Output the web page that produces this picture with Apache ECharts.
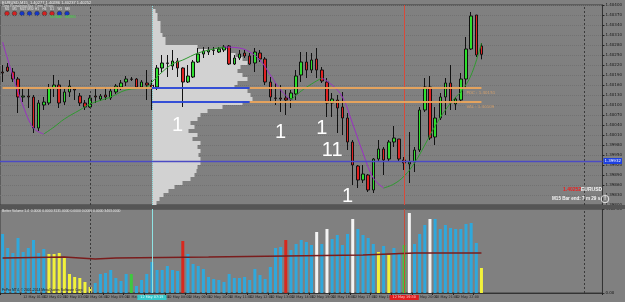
<!DOCTYPE html>
<html><head><meta charset="utf-8">
<script src="https://cdn.jsdelivr.net/npm/echarts@6/dist/echarts.min.js"></script>
<style>html,body{margin:0;padding:0;background:#808080;}#c{width:625px;height:302px;}</style>
</head><body><div id="c"></div>
<script>
// ---------- DATA ----------
const symbolName = 'EURUSD';
const barCount = 117;           // slots on the time axis (incl. empty chart shift)
const startDay = 12, barMinutes = 15;

const opens = [1.40199,1.40214,1.40199,1.40178,1.40124,1.40127,1.40124,1.40031,1.40100,1.40106,
1.40151,1.40160,1.40109,1.40139,1.40148,1.40127,1.40106,1.40094,1.40127,1.40118,
1.40130,1.40121,1.40139,1.40154,1.40169,1.40178,1.40178,1.40154,1.40166,1.40160,
1.40154,1.40211,1.40226,1.40217,1.40232,1.40211,1.40169,1.40184,1.40229,1.40253,
1.40259,1.40265,1.40259,1.40265,1.40277,1.40223,1.40241,1.40256,1.40247,1.40226,
1.40256,1.40238,1.40169,1.40121,1.40121,1.40121,1.40118,1.40133,1.40190,1.40229,
1.40205,1.40238,1.40205,1.40169,1.40106,1.40115,1.40094,1.40061,1.39989,1.39917,
1.39875,1.39890,1.39845,1.39938,1.39968,1.39938,1.39989,1.39998,1.39935,1.39923,
1.39929,1.39965,1.40085,1.40154,1.40004,1.40061,1.40124,1.40166,1.40103,1.40115,
1.40178,1.40268,1.40370,1.40277];
const closes = [1.40196,1.40202,1.40178,1.40124,1.40127,1.40124,1.40031,1.40106,1.40109,1.40151,
1.40160,1.40106,1.40139,1.40157,1.40145,1.40106,1.40094,1.40121,1.40124,1.40127,
1.40124,1.40142,1.40157,1.40166,1.40178,1.40177,1.40154,1.40169,1.40160,1.40154,
1.40211,1.40226,1.40225,1.40232,1.40211,1.40169,1.40187,1.40229,1.40253,1.40262,
1.40265,1.40264,1.40268,1.40274,1.40223,1.40241,1.40253,1.40247,1.40223,1.40259,
1.40238,1.40169,1.40124,1.40120,1.40118,1.40115,1.40136,1.40187,1.40229,1.40205,
1.40235,1.40205,1.40172,1.40106,1.40118,1.40091,1.40061,1.39989,1.39920,1.39875,
1.39893,1.39845,1.39938,1.39968,1.39935,1.39989,1.40001,1.39938,1.39926,1.39929,
1.39965,1.40085,1.40154,1.40001,1.40061,1.40124,1.40166,1.40106,1.40118,1.40178,
1.40268,1.40367,1.40250,1.40252];
const lows = [1.40169,1.40199,1.40169,1.40076,1.40109,1.40091,1.40016,1.40022,1.40085,1.40100,
1.40124,1.40091,1.40100,1.40124,1.40115,1.40097,1.40085,1.40091,1.40106,1.40112,
1.40115,1.40115,1.40133,1.40145,1.40157,1.40172,1.40151,1.40148,1.40115,1.40085,
1.40145,1.40199,1.40184,1.40205,1.40184,1.40094,1.40166,1.40181,1.40226,1.40241,
1.40250,1.40250,1.40256,1.40259,1.40220,1.40220,1.40235,1.40241,1.40220,1.40199,
1.40229,1.40160,1.40106,1.40100,1.40079,1.40070,1.40091,1.40115,1.40169,1.40181,
1.40196,1.40181,1.40166,1.40064,1.40064,1.40016,1.40010,1.39965,1.39860,1.39851,
1.39866,1.39839,1.39836,1.39929,1.39890,1.39929,1.39974,1.39929,1.39905,1.39866,
1.39899,1.39959,1.40079,1.39995,1.39980,1.40055,1.40070,1.40085,1.40085,1.40106,
1.40151,1.40265,1.40244,1.40237];
const highs = [1.40220,1.40226,1.40211,1.40184,1.40151,1.40151,1.40130,1.40115,1.40124,1.40163,
1.40190,1.40175,1.40151,1.40175,1.40151,1.40136,1.40115,1.40130,1.40154,1.40133,
1.40154,1.40151,1.40163,1.40175,1.40187,1.40184,1.40181,1.40175,1.40205,1.40175,
1.40220,1.40250,1.40250,1.40265,1.40241,1.40213,1.40220,1.40235,1.40271,1.40274,
1.40274,1.40274,1.40274,1.40280,1.40280,1.40250,1.40265,1.40265,1.40256,1.40271,
1.40265,1.40244,1.40184,1.40166,1.40160,1.40145,1.40145,1.40205,1.40259,1.40259,
1.40256,1.40271,1.40214,1.40181,1.40136,1.40130,1.40139,1.40076,1.39995,1.39920,
1.39920,1.39893,1.39941,1.39995,1.39974,1.39995,1.40037,1.39998,1.39944,1.40019,
1.39974,1.40094,1.40181,1.40187,1.40094,1.40136,1.40181,1.40220,1.40124,1.40196,
1.40304,1.40379,1.40370,1.40286];

// moving-average line, read at sample bars: [barIndex, price]
const maFalling1 = [[0,1.40289],[2,1.40187],[4,1.40097],[6,1.40031],[8,1.40013]];
const maRising1  = [[8,1.40013],[10,1.40034],[12,1.40058],[15,1.40085],[17,1.40103],[21,1.40124],[24,1.40145],[28,1.40154],[29,1.40169],[31,1.40199],[33,1.40223],[35,1.40235],[38,1.40256],[41,1.40268],[43,1.40274]];
const maFalling2 = [[43,1.40274],[46,1.40271],[48,1.40259],[50,1.40235],[52,1.40190],[54,1.40145],[56,1.40115]];
const maRising2  = [[56,1.40115],[58,1.40142],[60,1.40163],[62,1.40181]];
const maFalling3 = [[62,1.40181],[64,1.40160],[66,1.40124],[68,1.40043],[70,1.39956],[72,1.39881],[74,1.39851]];
const maRising3  = [[74,1.39851],[76,1.39863],[78,1.39887],[80,1.39926],[82,1.39980],[84,1.40037],[86,1.40085],[88,1.40124],[89,1.40139],[91,1.40190],[93,1.40286]];

// levels
const pocLevel = 1.40151, valLevel = 1.40109, supportLevel = 1.39932, lastPrice = 1.40252;
const levelSplitBar = 29, levelBlueEnd = 48, lastBar = 93;
const vLineBars = {dashA:17, dashB:113, cyan:29, red:78};

// volume (Better Volume)
const volumes = [2360,1800,1600,2200,1640,1800,2120,1600,1760,1560,
1560,1600,1400,760,640,600,440,240,400,760,
800,920,600,480,760,760,280,520,760,1240,
920,920,1080,920,880,2080,1560,1160,1080,960,
640,560,520,440,760,600,600,640,520,960,
720,560,1040,1800,1840,2120,1720,1960,2120,2040,
1920,2440,1960,2560,2160,2320,1920,2360,2960,2560,
2320,2200,1960,1640,1880,1520,1800,1560,1920,3200,
1960,2360,2720,2960,2960,2560,2720,2600,2560,2560,
2760,2800,2000,1000];
const lowVolumeBars = [9,10,11,12,13,14,15,16,17,73,75,93];
const climaxUpBars = [35,55];
const climaxDownBars = [61,63,68,79,83];
const churnBars = [25,78];
const volumeAverage = [[0,1400],[12,1440],[18,1360],[22,1400],[40,1440],[55,1480],[70,1520],[80,1600],[93,1600]];
const volumeMax = 3360;

// market profile rows (top to bottom)
const profileTop = 1.40394, profileStep = 0.00012;
const profileCounts = [0,3,5,5,8,8,8,10,13,13,45,75,83,90,95,88,85,90,95,85,82,95,98,100,90,70,55,48,45,38,42,36,45,40,48,45,48,46,48,48,45,44,42,38,30,22,16,11,7,4];

// arrow marks
const markBars = [34,54,62,64,67];
const markPrices = [1.40040,1.40019,1.40031,1.39965,1.39827];
const markTexts = ['1','1','1','11','1'];

// ---------- BUILD ----------
function pad(n){return (n<10?'0':'')+n;}
const cats = [];
for (let i=0;i<barCount;i++){
  const t = i*barMinutes, d = startDay + Math.floor(t/1440), hh = Math.floor((t%1440)/60), mm = t%60;
  cats.push((hh===0&&mm===0) ? d+' May 2014' : d+' May '+pad(hh)+':'+pad(mm));
}
const candleData = opens.map((o,i)=>[o, closes[i], lows[i], highs[i]]);
const profileCats = profileCounts.map((_,k)=>(profileTop - k*profileStep).toFixed(5));
const volColors = {normal:'#2fa8dc', low:'#f2f23a', up:'#d8281e', down:'#f4f4f4', churn:'#3ec83e'};
function volType(i){
  if (lowVolumeBars.includes(i)) return 'low';
  if (climaxUpBars.includes(i)) return 'up';
  if (climaxDownBars.includes(i)) return 'down';
  if (churnBars.includes(i)) return 'churn';
  return 'normal';
}
const volData = volumes.map((v,i)=>({value:v, itemStyle:{color:volColors[volType(i)]}}));

const PURPLE = '#9b2fc4', GREEN = '#2f9a2f';
function maSeries(pts,color,extra){
  return Object.assign({type:'line', xAxisIndex:0, yAxisIndex:0, data:pts, showSymbol:false, smooth:0.4, z:4,
    lineStyle:{color:color, width:1}, silent:true}, extra||{});
}
const ORANGE = '#e9a45c', BLUE = '#2b48d6';
const hSeg = (a,b,y,color,label)=>[
  {coord:[a,y], lineStyle:{color:color,width:2,type:'solid',opacity:0.95}, label:label||{show:false}},
  {coord:[b,y]}];
const profLabel = (txt)=>({show:true, position:'end', offset:[-20,5], formatter:txt, fontSize:4, color:'#d6a06a'});

const levelLines = {symbol:['none','none'], silent:true, animation:false, precision:5, label:{show:false},
  data:[
    {yAxis:supportLevel, lineStyle:{color:'#4b4bc4', type:'solid', width:1.4},
      label:{show:true, position:'end', distance:1, formatter:supportLevel.toFixed(5), fontSize:4, color:'#fff', backgroundColor:'#1d40e0', padding:[1,1]}},
    {yAxis:lastPrice, lineStyle:{opacity:0},
      label:{show:true, position:'end', distance:1, formatter:lastPrice.toFixed(5), fontSize:4, color:'#fff', backgroundColor:'#000', padding:[1,1]}}
  ]};

const chart = echarts.init(document.getElementById('c'));
chart.setOption({
  animation:false,
  backgroundColor:'#808080',
  textStyle:{fontFamily:'DejaVu Sans'},
  grid:[
    {left:-1, right:14, top:5, height:200, show:true, borderColor:'#3a3a3a', borderWidth:1},
    {left:-1, right:14, top:209, height:84, show:true, borderColor:'#3a3a3a', borderWidth:1},
    {left:152.5, top:5, height:200, width:150}
  ],
  xAxis:[
    {gridIndex:0, type:'category', data:cats, axisLine:{show:false}, axisTick:{show:false}, axisLabel:{show:false}, splitLine:{show:false}},
    {gridIndex:1, type:'category', data:cats, axisLine:{lineStyle:{color:'#333'}},
      axisTick:{show:true, length:2, interval:(i)=>i%4===0 && i<=lastBar, lineStyle:{color:'#222'}},
      axisLabel:{show:true, interval:(i)=>i%4===0 && i<=lastBar, fontSize:3.4, color:'#1c1c1c', margin:3, align:'left'}},
    {gridIndex:2, type:'value', min:0, max:150, show:false}
  ],
  yAxis:[
    {gridIndex:0, type:'value', position:'right', min:1.398, max:1.404, interval:0.0003,
      axisLine:{show:true, lineStyle:{color:'#333'}}, axisTick:{show:true, length:2, lineStyle:{color:'#222'}},
      axisLabel:{fontSize:4, color:'#151515', margin:3, formatter:v=>v.toFixed(5)},
      splitLine:{show:true, lineStyle:{color:'#727272', type:'dotted', width:1}}},
    {gridIndex:1, type:'value', position:'right', min:0, max:volumeMax, interval:volumeMax,
      axisLine:{show:true, lineStyle:{color:'#333'}}, axisTick:{show:true, length:2},
      axisLabel:{fontSize:4, color:'#151515', margin:3, formatter:v=>v.toFixed(2)}, splitLine:{show:false}},
    {gridIndex:2, type:'category', data:profileCats, inverse:true, show:false}
  ],
  series:[
    {type:'bar', xAxisIndex:2, yAxisIndex:2, data:profileCounts, barWidth:'100%', z:1, silent:true,
      itemStyle:{color:'#d2d2d2'}},
    {type:'candlestick', xAxisIndex:0, yAxisIndex:0, data:candleData, barWidth:3, z:3,
      itemStyle:{color:'#2ee02e', color0:'#e02222', borderColor:'#111', borderColor0:'#111', borderWidth:1},
      markLine:{symbol:['none','none'], silent:true, animation:false, precision:5, label:{show:false},
        data:[
          {xAxis:vLineBars.dashA, lineStyle:{color:'#3a3a3a', type:[2,2], width:1}},
          {xAxis:vLineBars.dashB, lineStyle:{color:'#3a3a3a', type:[2,2], width:1}},
          {xAxis:vLineBars.cyan, lineStyle:{color:'#8fe3e3', type:[1,1], width:1}},
          {xAxis:vLineBars.red, lineStyle:{color:'#d84a3a', type:'solid', width:1}},
          hSeg(0, levelSplitBar, pocLevel, ORANGE),
          hSeg(levelSplitBar, levelBlueEnd, pocLevel, BLUE),
          hSeg(levelSplitBar, levelBlueEnd, valLevel, BLUE),
          hSeg(levelBlueEnd, lastBar, pocLevel, ORANGE, profLabel('POC : '+pocLevel.toFixed(5))),
          hSeg(levelBlueEnd, lastBar, valLevel, ORANGE, profLabel('VAL : '+valLevel.toFixed(5)))
        ]},
      markPoint:{silent:true, symbol:'rect', symbolSize:1, itemStyle:{color:'rgba(0,0,0,0)'},
        label:{show:true, position:'inside', color:'#fff', fontSize:20, fontFamily:'Liberation Sans', formatter:p=>p.name},
        data:markBars.map((b,i)=>({name:markTexts[i], coord:[b, markPrices[i]]}))}
    },
    maSeries(maFalling1,PURPLE), maSeries(maRising1,GREEN),
    maSeries(maFalling2,PURPLE), maSeries(maRising2,GREEN),
    maSeries(maFalling3,PURPLE), maSeries(maRising3,GREEN,{markLine:levelLines}),
    {type:'bar', xAxisIndex:1, yAxisIndex:1, data:volData, barWidth:3, z:2, silent:true,
      markLine:{symbol:['none','none'], silent:true, animation:false, label:{show:false},
        data:[
          {xAxis:vLineBars.dashA, lineStyle:{color:'#3a3a3a', type:[2,2], width:1}},
          {xAxis:vLineBars.dashB, lineStyle:{color:'#3a3a3a', type:[2,2], width:1}},
          {xAxis:vLineBars.cyan, lineStyle:{color:'#8fe3e3', type:'solid', width:1},
            label:{show:true, position:'start', distance:2, formatter:cats[vLineBars.cyan], fontSize:3.4, color:'#e8ffff', backgroundColor:'#36c8cc', padding:[1,3]}},
          {xAxis:vLineBars.red, lineStyle:{color:'#c84a3a', type:'solid', width:1},
            label:{show:true, position:'start', distance:2, formatter:cats[vLineBars.red], fontSize:3.4, color:'#ffd0d0', backgroundColor:'#e01e1e', padding:[1,3]}}
        ]}},
    {type:'line', xAxisIndex:1, yAxisIndex:1, data:volumeAverage, showSymbol:false, z:3, silent:true,
      lineStyle:{color:'#7a1c1c', width:1.3}}
  ],
  graphic:[
    {type:'rect', shape:{x:0, y:205, width:625, height:4}, style:{fill:'#555'}, z:10},
    {type:'text', x:2, y:1, z:10, style:{text:symbolName+',M15  1.40277 1.40286 1.40237 1.40252', fontSize:4, fill:'#ececec'}},
    {type:'text', x:2, y:5, z:10, style:{text:'Time Remaining Bar: 7 min 29 sec', fontSize:3.4, fill:'#e0e0e0'}},
    {type:'group', z:10, children:
      ['M1','M5','M15','M30','H1','H4','D1','W1','MN'].map((tf,k)=>({type:'text', x:5+k*7.5, y:8, style:{text:tf, fontSize:3, fill:'#e6e6e6'}}))
      .concat(['#d42020','#d42020','#1436c8','#1436c8','#1436c8','#d42020','#d42020','#1436c8','#1436c8'].map((c,k)=>({type:'circle', shape:{cx:7+k*7.5, cy:13.5, r:2.3}, style:{fill:c, stroke:'#333', lineWidth:0.5}})))
    },
    {type:'text', x:50, y:15.5, z:10, style:{text:'SIGNAL : MIXED', fontSize:3.4, fill:'#3ede3e'}},
    {type:'text', x:563, y:187, z:10, style:{text:lastPrice.toFixed(5), fontSize:5, fontWeight:'bold', fill:'#f01c1c'}},
    {type:'text', x:581, y:187, z:10, style:{text:symbolName, fontSize:5, fontWeight:'bold', fill:'#f4f4f4'}},
    {type:'text', x:552, y:196, z:10, style:{text:'M15 Bar end: 7 m 29 s', fontSize:4.6, fontWeight:'bold', fill:'#f4f4f4'}},
    {type:'circle', z:10, shape:{cx:605, cy:199, r:3.8}, style:{fill:'none', stroke:'#f0f0f0', lineWidth:0.9}},
    {type:'text', x:604.2, y:196.2, z:10, style:{text:'!', fontSize:5, fontWeight:'bold', fill:'#f0f0f0'}},
    {type:'text', x:2, y:210, z:10, style:{text:'Better Volume 1.4  0.0000 0.0000 3131.0000 0.0000 0.0000 0.0000 3463.0000', fontSize:3.4, fill:'#e8e8e8'}},
    {type:'text', x:2, y:288.5, z:10, style:{text:'FxPro MT4, \u00a9 2001-2014 MetaQuotes Software Corp.', fontSize:3.4, fill:'#1c1c1c'}}
  ]
});
</script>
</body></html>
